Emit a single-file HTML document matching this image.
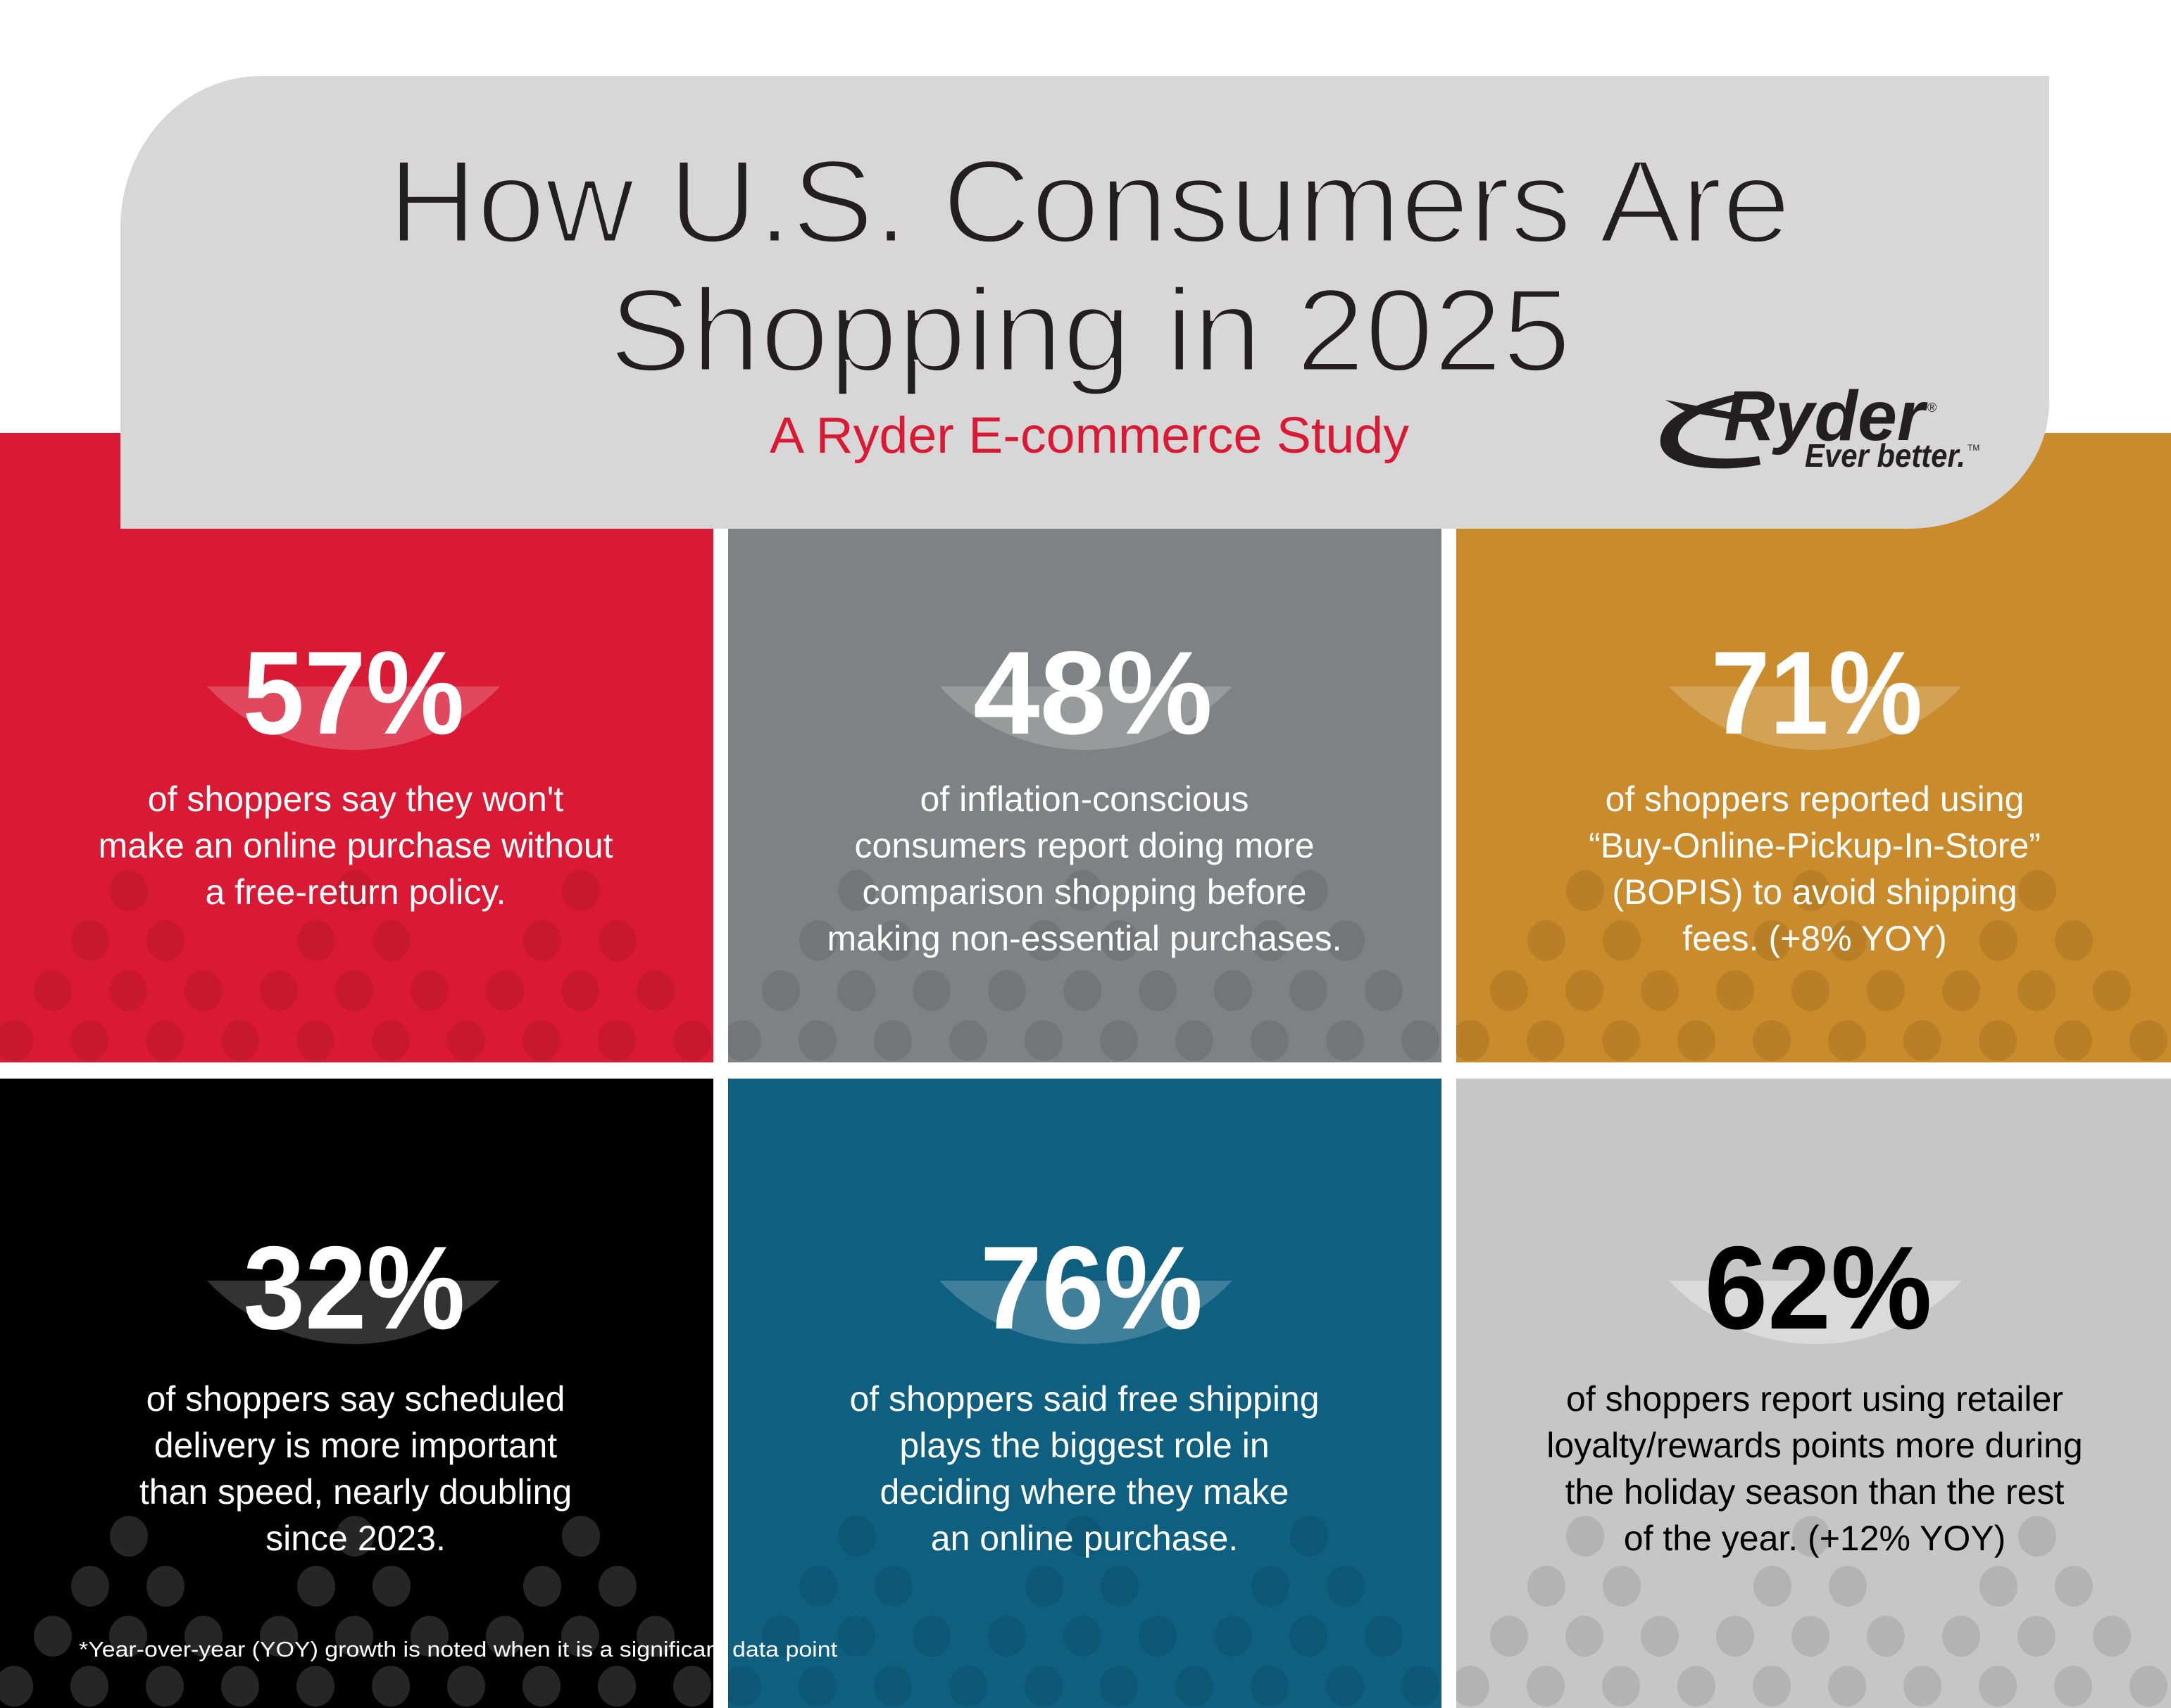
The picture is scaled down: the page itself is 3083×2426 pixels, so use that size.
<!DOCTYPE html>
<html><head><meta charset="utf-8"><style>
html,body{margin:0;padding:0;background:#fff}
svg{display:block}
text{font-family:"Liberation Sans",sans-serif}
</style></head><body>
<svg width="3083" height="2426" viewBox="0 0 3083 2426" xmlns="http://www.w3.org/2000/svg">
<defs>
<g id="dots">
<ellipse cx="183" cy="650" rx="27" ry="29"/><ellipse cx="504" cy="650" rx="27" ry="29"/><ellipse cx="825" cy="650" rx="27" ry="29"/>
<ellipse cx="128" cy="721" rx="27" ry="29"/><ellipse cx="235" cy="721" rx="27" ry="29"/><ellipse cx="449" cy="721" rx="27" ry="29"/><ellipse cx="556" cy="721" rx="27" ry="29"/><ellipse cx="770" cy="721" rx="27" ry="29"/><ellipse cx="877" cy="721" rx="27" ry="29"/>
<ellipse cx="75" cy="792" rx="27" ry="29"/><ellipse cx="182" cy="792" rx="27" ry="29"/><ellipse cx="289" cy="792" rx="27" ry="29"/><ellipse cx="396" cy="792" rx="27" ry="29"/><ellipse cx="503" cy="792" rx="27" ry="29"/><ellipse cx="610" cy="792" rx="27" ry="29"/><ellipse cx="717" cy="792" rx="27" ry="29"/><ellipse cx="824" cy="792" rx="27" ry="29"/><ellipse cx="931" cy="792" rx="27" ry="29"/>
<ellipse cx="20" cy="863" rx="27" ry="29"/><ellipse cx="127" cy="863" rx="27" ry="29"/><ellipse cx="234" cy="863" rx="27" ry="29"/><ellipse cx="341" cy="863" rx="27" ry="29"/><ellipse cx="448" cy="863" rx="27" ry="29"/><ellipse cx="555" cy="863" rx="27" ry="29"/><ellipse cx="662" cy="863" rx="27" ry="29"/><ellipse cx="769" cy="863" rx="27" ry="29"/><ellipse cx="876" cy="863" rx="27" ry="29"/><ellipse cx="983" cy="863" rx="27" ry="29"/>
</g>
<clipPath id="c"><rect x="0" y="0" width="1013" height="894"/></clipPath>
<path id="bowl" d="M-208 0 A285 285 0 0 0 208 0 Z"/>
</defs>

<g transform="translate(0,615)"><rect width="1013" height="894" fill="#DA1A35"/><g clip-path="url(#c)" fill="#C8182E"><use href="#dots"/></g></g>
<g transform="translate(1034,615)"><rect width="1013" height="894" fill="#808184"/><g clip-path="url(#c)" fill="#747578"><use href="#dots"/></g></g>
<g transform="translate(2068,615)"><rect width="1015" height="894" fill="#C98B2B"/><g clip-path="url(#c)" fill="#B87F27"><use href="#dots"/></g></g>
<g transform="translate(0,1532)"><rect width="1013" height="894" fill="#000"/><g clip-path="url(#c)" fill="#262626"><use href="#dots"/></g></g>
<g transform="translate(1034,1532)"><rect width="1013" height="894" fill="#0F5F80"/><g clip-path="url(#c)" fill="#0C5676"><use href="#dots"/></g></g>
<g transform="translate(2068,1532)"><rect width="1015" height="894" fill="#C6C6C6"/><g clip-path="url(#c)" fill="#B3B3B3"><use href="#dots"/></g></g>

<path d="M171 751 L171 323 A200 215 0 0 1 371 108 L2910 108 L2910 571 A200 180 0 0 1 2710 751 Z" fill="#D7D7D8"/>
<g stroke="#D7D7D8" stroke-width="5">
<text x="1547" y="344" font-size="168" fill="#231F20" text-anchor="middle" textLength="1992" lengthAdjust="spacingAndGlyphs">How U.S. Consumers Are</text>
<text x="1548" y="527" font-size="168" fill="#231F20" text-anchor="middle" textLength="1366" lengthAdjust="spacingAndGlyphs">Shopping in 2025</text>
</g>
<text x="1547" y="643" font-size="72" fill="#DA1A35" text-anchor="middle" textLength="908" lengthAdjust="spacingAndGlyphs">A Ryder E-commerce Study</text>

<path d="M2365 568 L2470 588 L2468 597 L2395 585 Z" fill="#231F20"/>
<path d="M2475 558 C2390 575 2355 600 2358 630 C2362 665 2440 672 2500 660 L2498 648 C2440 656 2385 650 2383 625 C2381 600 2420 580 2478 566 Z" fill="#231F20"/>
<text x="2448" y="625" font-size="100" font-weight="bold" font-style="italic" fill="#231F20" textLength="285" lengthAdjust="spacingAndGlyphs">Ryder</text>
<text x="2737" y="585" font-size="18" fill="#231F20">®</text>
<text x="2563" y="663" font-size="46" font-weight="bold" font-style="italic" fill="#231F20" textLength="228" lengthAdjust="spacingAndGlyphs">Ever better.</text>
<text x="2794" y="640" font-size="12" fill="#231F20">TM</text>

<use href="#bowl" x="502" y="975" fill="#fff" fill-opacity="0.2"/>
<use href="#bowl" x="1542" y="975" fill="#fff" fill-opacity="0.2"/>
<use href="#bowl" x="2578" y="975" fill="#fff" fill-opacity="0.2"/>
<use href="#bowl" x="502" y="1819" fill="#fff" fill-opacity="0.2"/>
<use href="#bowl" x="1542" y="1819" fill="#fff" fill-opacity="0.2"/>
<use href="#bowl" x="2578" y="1819" fill="#fff" fill-opacity="0.35"/>

<g font-size="168" font-weight="bold" text-anchor="middle">
<text x="502" y="1042" fill="#fff" textLength="315" lengthAdjust="spacingAndGlyphs">57%</text>
<text x="1552" y="1042" fill="#fff" textLength="340" lengthAdjust="spacingAndGlyphs">48%</text>
<text x="2580" y="1042" fill="#fff" textLength="300" lengthAdjust="spacingAndGlyphs">71%</text>
<text x="503" y="1887" fill="#fff" textLength="315" lengthAdjust="spacingAndGlyphs">32%</text>
<text x="1550" y="1887" fill="#fff" textLength="316" lengthAdjust="spacingAndGlyphs">76%</text>
<text x="2582" y="1887" fill="#000" textLength="323" lengthAdjust="spacingAndGlyphs">62%</text>
</g>

<g font-size="50" text-anchor="middle" fill="#fff">
<text x="505" y="1152">of shoppers say they won't</text>
<text x="505" y="1218">make an online purchase without</text>
<text x="505" y="1284">a free-return policy.</text>

<text x="1540" y="1152">of inflation-conscious</text>
<text x="1540" y="1218">consumers report doing more</text>
<text x="1540" y="1284">comparison shopping before</text>
<text x="1540" y="1350">making non-essential purchases.</text>

<text x="2577" y="1152">of shoppers reported using</text>
<text x="2577" y="1218">“Buy-Online-Pickup-In-Store”</text>
<text x="2577" y="1284">(BOPIS) to avoid shipping</text>
<text x="2577" y="1350">fees. (+8% YOY)</text>

<text x="505" y="2004">of shoppers say scheduled</text>
<text x="505" y="2070">delivery is more important</text>
<text x="505" y="2136">than speed, nearly doubling</text>
<text x="505" y="2202">since 2023.</text>

<text x="1540" y="2004">of shoppers said free shipping</text>
<text x="1540" y="2070">plays the biggest role in</text>
<text x="1540" y="2136">deciding where they make</text>
<text x="1540" y="2202">an online purchase.</text>

<g fill="#000">
<text x="2577" y="2004">of shoppers report using retailer</text>
<text x="2577" y="2070">loyalty/rewards points more during</text>
<text x="2577" y="2136">the holiday season than the rest</text>
<text x="2577" y="2202">of the year. (+12% YOY)</text>
</g>
</g>

<text x="112" y="2353" font-size="31" fill="#fff" textLength="1077" lengthAdjust="spacingAndGlyphs">*Year-over-year (YOY) growth is noted when it is a significant data point</text>
</svg>
</body></html>
